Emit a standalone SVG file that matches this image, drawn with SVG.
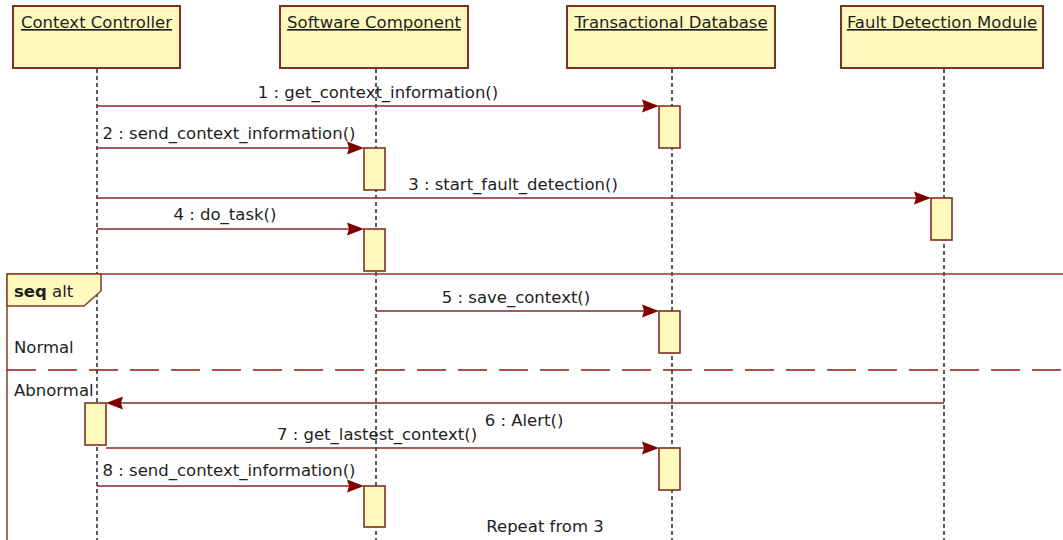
<svg xmlns="http://www.w3.org/2000/svg" width="1063" height="540" viewBox="0 0 1063 540">
<style>
  .box { fill: #FFF9BD; stroke: #7F3020; stroke-width: 2; }
  .act { fill: #FFF9BD; stroke: #7F3020; stroke-width: 1.6; }
  .life { stroke: #333333; stroke-width: 1.6; stroke-dasharray: 4 3; fill: none; }
  .msg { stroke: #8B2525; stroke-width: 1.5; fill: none; }
  .head { fill: #800000; }
  .frame { stroke: #8B3A2A; stroke-width: 1.5; fill: none; }
  .sep { stroke: #8B1A1A; stroke-width: 1.5; stroke-dasharray: 29 12; fill: none; }
  text { font-family: "DejaVu Sans", Verdana, sans-serif; font-size: 16.5px; fill: #1E1E1E; }
  .title { text-decoration: underline; text-anchor: middle; }
  .lbl { text-anchor: middle; }
</style>

<g id="lifelines">
  <line class="life" x1="97" y1="69" x2="97" y2="540"/>
  <line class="life" x1="376" y1="69" x2="376" y2="540"/>
  <line class="life" x1="672" y1="69" x2="672" y2="540"/>
  <line class="life" x1="944" y1="69" x2="944" y2="540"/>
</g>

<g id="context-controller">
  <rect class="box" x="13" y="6" width="167" height="62"/>
  <text class="title" x="96.5" y="28">Context Controller</text>
</g>
<g id="software-component">
  <rect class="box" x="280" y="6" width="188" height="62"/>
  <text class="title" x="374" y="28">Software Component</text>
</g>
<g id="transactional-database">
  <rect class="box" x="567" y="6" width="208" height="62"/>
  <text class="title" x="671" y="28">Transactional Database</text>
</g>
<g id="fault-detection-module">
  <rect class="box" x="841" y="6" width="202" height="62"/>
  <text class="title" x="942" y="28">Fault Detection Module</text>
</g>

<g id="combined-fragment">
  <line class="frame" x1="7" y1="274" x2="1063" y2="274"/>
  <line class="frame" x1="7" y1="274" x2="7" y2="540"/>
  <path d="M7,274 H101 V291 L84,306 H7 Z" fill="#FFF9BD" stroke="#8B3A2A" stroke-width="1.5"/>
  <text x="14" y="297"><tspan font-weight="bold">seq</tspan> alt</text>
  <text x="14" y="353">Normal</text>
  <line class="sep" x1="7" y1="370" x2="1063" y2="370"/>
  <text x="14" y="396">Abnormal</text>
  <text class="lbl" x="545" y="532">Repeat from 3</text>
</g>

<g id="activations">
  <rect class="act" x="659" y="106" width="21" height="42"/>
  <rect class="act" x="364" y="148" width="21" height="42"/>
  <rect class="act" x="931" y="198" width="21" height="42"/>
  <rect class="act" x="364" y="229" width="21" height="42"/>
  <rect class="act" x="659" y="311" width="21" height="42"/>
  <rect class="act" x="85" y="403" width="21" height="42"/>
  <rect class="act" x="659" y="448" width="21" height="42"/>
  <rect class="act" x="364" y="486" width="21" height="41"/>
</g>

<g id="connectors">
  <line class="msg" x1="97" y1="106" x2="646" y2="106"/>
  <polygon class="head" points="659,106 642,99.5 644,106 642,112.5"/>
  <text class="lbl" x="378" y="98">1 : get_context_information()</text>

  <line class="msg" x1="97" y1="148" x2="351" y2="148"/>
  <polygon class="head" points="364,148 347,141.5 349,148 347,154.5"/>
  <text class="lbl" x="229" y="139">2 : send_context_information()</text>

  <line class="msg" x1="97" y1="198" x2="918" y2="198"/>
  <polygon class="head" points="931,198 914,191.5 916,198 914,204.5"/>
  <text class="lbl" x="513" y="190">3 : start_fault_detection()</text>

  <line class="msg" x1="97" y1="229" x2="351" y2="229"/>
  <polygon class="head" points="364,229 347,222.5 349,229 347,235.5"/>
  <text class="lbl" x="225" y="220">4 : do_task()</text>

  <line class="msg" x1="376" y1="311" x2="646" y2="311"/>
  <polygon class="head" points="659,311 642,304.5 644,311 642,317.5"/>
  <text class="lbl" x="516" y="303">5 : save_context()</text>

  <line class="msg" x1="944" y1="403" x2="119" y2="403"/>
  <polygon class="head" points="106,403 123,396.5 121,403 123,409.5"/>
  <text class="lbl" x="524" y="426">6 : Alert()</text>

  <line class="msg" x1="106" y1="448" x2="646" y2="448"/>
  <polygon class="head" points="659,448 642,441.5 644,448 642,454.5"/>
  <text class="lbl" x="377" y="440">7 : get_lastest_context()</text>

  <line class="msg" x1="97" y1="486" x2="351" y2="486"/>
  <polygon class="head" points="364,486 347,479.5 349,486 347,492.5"/>
  <text class="lbl" x="229" y="476">8 : send_context_information()</text>
</g>
</svg>
